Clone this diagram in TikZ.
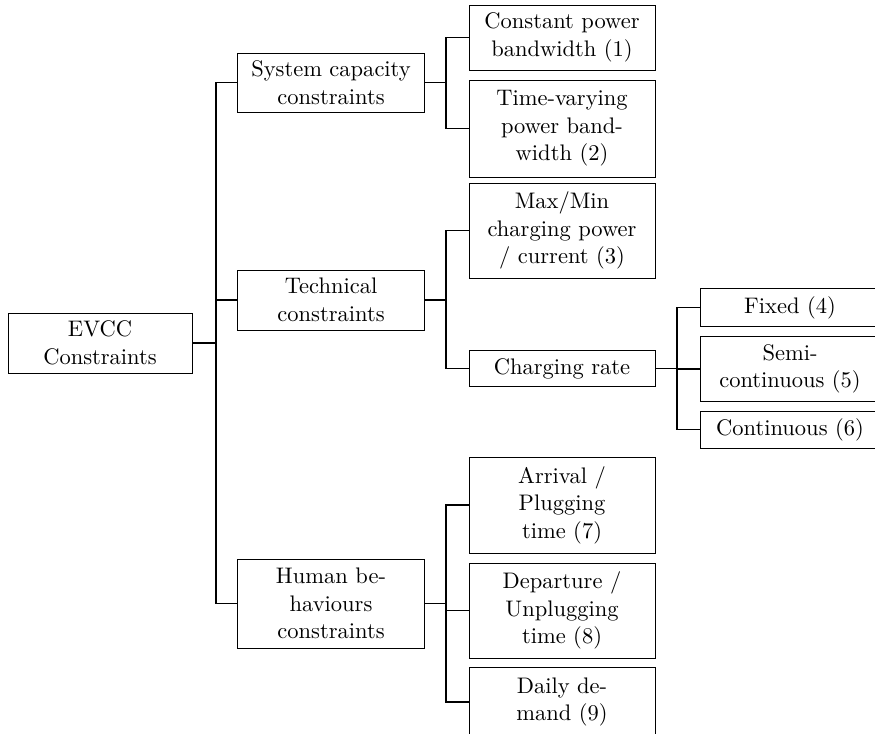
\documentclass[tikz,border=0pt]{standalone}
\usetikzlibrary{calc}
\newlength{\unitpx}
\setlength{\unitpx}{0.4444pt}
\tikzset{
  box/.style={draw, line width=0.4pt, rectangle, inner sep=0pt, align=center,
              font=\fontsize{10}{12.2}\selectfont},
  lvlA/.style={box, minimum width=184\unitpx, text width=76pt},
  lvlB/.style={box, minimum width=187\unitpx, text width=78pt},
  lvlC/.style={box, minimum width=186\unitpx, text width=78pt},
  lvlD/.style={box, minimum width=180\unitpx, text width=76pt},
  link/.style={draw, line width=0.8pt, line join=miter},
}
\begin{document}
\begin{tikzpicture}[x=\unitpx, y=-\unitpx]
\useasboundingbox (0,0) rectangle (875,733);

% root
\node[lvlA, minimum height=60\unitpx] (root) at (100,343) {EVCC\\Constraints};

% first level
\node[lvlB, minimum height=59\unitpx] (sys)  at (331,82.5) {System capacity\\constraints};
\node[lvlB, minimum height=60\unitpx] (tech) at (331,300) {Technical\\constraints};
\node[lvlB, minimum height=89\unitpx] (hum)  at (331,603.5) {Human be-\\haviours\\constraints};

% second level
\node[lvlC, minimum height=65\unitpx] (cpb)  at (562,37.5) {Constant power\\bandwidth (1)};
\node[lvlC, minimum height=97\unitpx] (tvb)  at (562,128.5) {Time-varying\\power band-\\width (2)};
\node[lvlC, minimum height=95\unitpx] (mm)   at (562,230.5) {Max/Min\\charging power\\/ current (3)};
\node[lvlC, minimum height=36\unitpx] (rate) at (562,368.5) {Charging rate};
\node[lvlC, minimum height=96\unitpx] (arr)  at (562,505) {Arrival /\\Plugging\\time (7)};
\node[lvlC, minimum height=95\unitpx] (dep)  at (562,610.5) {Departure /\\Unplugging\\time (8)};
\node[lvlC, minimum height=70\unitpx] (day)  at (562,702) {Daily de-\\mand (9)};

% third level
\node[lvlD, minimum height=38\unitpx] (fix)  at (790,307.5) {Fixed (4)};
\node[lvlD, minimum height=65\unitpx] (semi) at (790,369) {Semi-\\continuous (5)};
\node[lvlD, minimum height=37\unitpx] (cont) at (790,429.5) {Continuous (6)};

% fork points
\coordinate (f0) at (216,343);
\coordinate (f1) at (446,82.5);
\coordinate (f2) at (446,300);
\coordinate (f3) at (446,603.5);
\coordinate (f4) at (677,368.5);

% connectors
\foreach \c in {sys,tech,hum}
  \draw[link] (root.east) -- (root.east -| f0) |- (\c.west);
\foreach \c in {cpb,tvb}
  \draw[link] (sys.east) -- (sys.east -| f1) |- (\c.west);
\foreach \c in {mm,rate}
  \draw[link] (tech.east) -- (tech.east -| f2) |- (\c.west);
\foreach \c in {arr,dep,day}
  \draw[link] (hum.east) -- (hum.east -| f3) |- (\c.west);
\foreach \c in {fix,semi,cont}
  \draw[link] (rate.east) -- (rate.east -| f4) |- (\c.west);
\end{tikzpicture}
\end{document}
